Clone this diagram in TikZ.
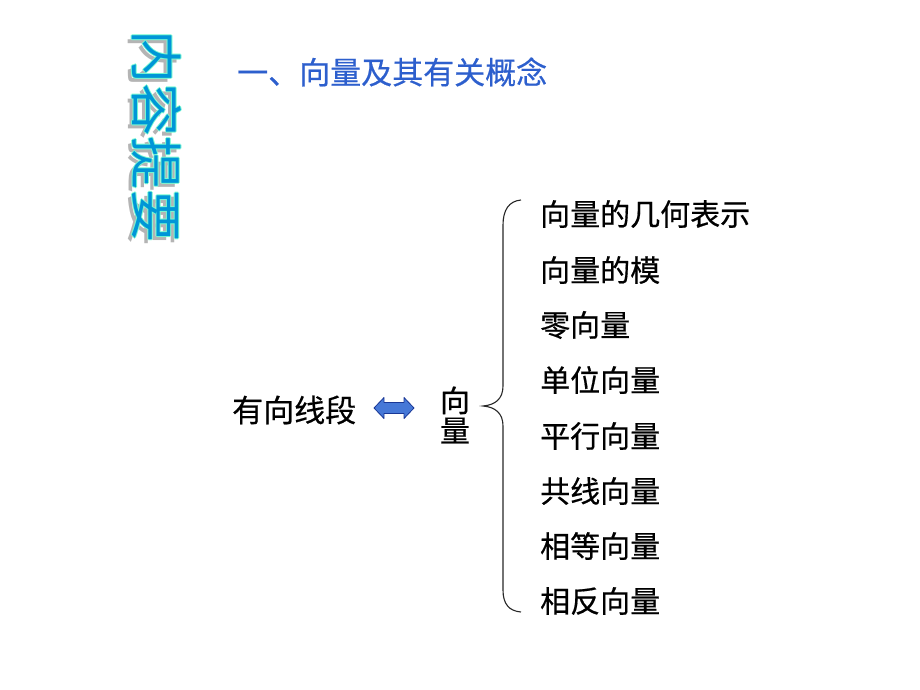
\documentclass[tikz,border=0pt]{standalone}
\usepackage{fontspec}
\newfontfamily\cjk[FakeBold=0.5]{Noto Sans CJK SC}
\newfontfamily\cjkv{Noto Sans CJK SC}
\definecolor{titleblue}{RGB}{45,95,205}
\definecolor{vblue}{RGB}{0,150,215}
\definecolor{vaqua}{RGB}{120,250,210}
\definecolor{vshadow}{RGB}{180,180,180}
\definecolor{arrowfill}{RGB}{70,120,215}
\definecolor{arrowdraw}{RGB}{25,55,150}
\tikzset{
  item/.style={anchor=west, inner sep=0pt, font=\cjk\fontsize{30}{33}\selectfont, text=black},
  heading/.style={anchor=west, inner sep=0pt, font=\cjk\fontsize{31}{34}\selectfont, text=titleblue},
  vtitle/.style={inner sep=0pt, rotate=-90, font=\cjkv\fontsize{53}{60}\selectfont},
  bracepath/.style={draw=black!85, line width=1.1pt},
  arrowshape/.style={draw=arrowdraw, fill=arrowfill, line width=0.8pt, line join=round},
}
\begin{document}
\begin{tikzpicture}[x=1pt,y=-1pt]
\useasboundingbox (0,0) rectangle (920,690);
% vertical title with shadow and outline
\node[vtitle, text=vshadow] (vts) at (153,141) {内容提要};
\foreach \dx/\dy in {-1/0,1/0,0/-1,0/1}{
  \node[vtitle, text=vaqua] at (157+\dx,137+\dy) {内容提要};
}
\node[vtitle, text=vblue] (vt) at (157,137) {内容提要};
% heading
\node[heading] (head) at (237,72) {一、向量及其有关概念};
% left side
\node[item, font=\cjk\fontsize{31}{33}\selectfont] (seg) at (232,410) {有向线段};
\coordinate (dar) at (394,408);
\draw[arrowshape] (374,408) -- (384,397.5) -- (384,402.5) -- (404,402.5) -- (404,397.5)
  -- (414,408) -- (404,418.5) -- (404,413.5) -- (384,413.5) -- (384,418.5) -- cycle;
\node[item, anchor=center, align=center, font=\cjk\fontsize{30}{30}\selectfont] (vec) at (455,415) {向\\量};
% brace
\coordinate (btop) at (521,200);
\coordinate (btip) at (483,406);
\coordinate (bbot) at (521,612);
\draw[bracepath] (btop) .. controls (509,201) and (503,210) .. (503,225)
  -- (503,386) .. controls (503,399) and (495,405) .. (btip)
  .. controls (495,407) and (503,413) .. (503,426)
  -- (503,590) .. controls (503,604) and (509,611) .. (bbot);
% items
\node[item] (i1) at (540,214) {向量的几何表示};
\node[item] (i2) at (540,270) {向量的模};
\node[item] (i3) at (540,325) {零向量};
\node[item] (i4) at (540,380) {单位向量};
\node[item] (i5) at (540,436) {平行向量};
\node[item] (i6) at (540,491) {共线向量};
\node[item] (i7) at (540,546) {相等向量};
\node[item] (i8) at (540,601) {相反向量};
\end{tikzpicture}
\end{document}
